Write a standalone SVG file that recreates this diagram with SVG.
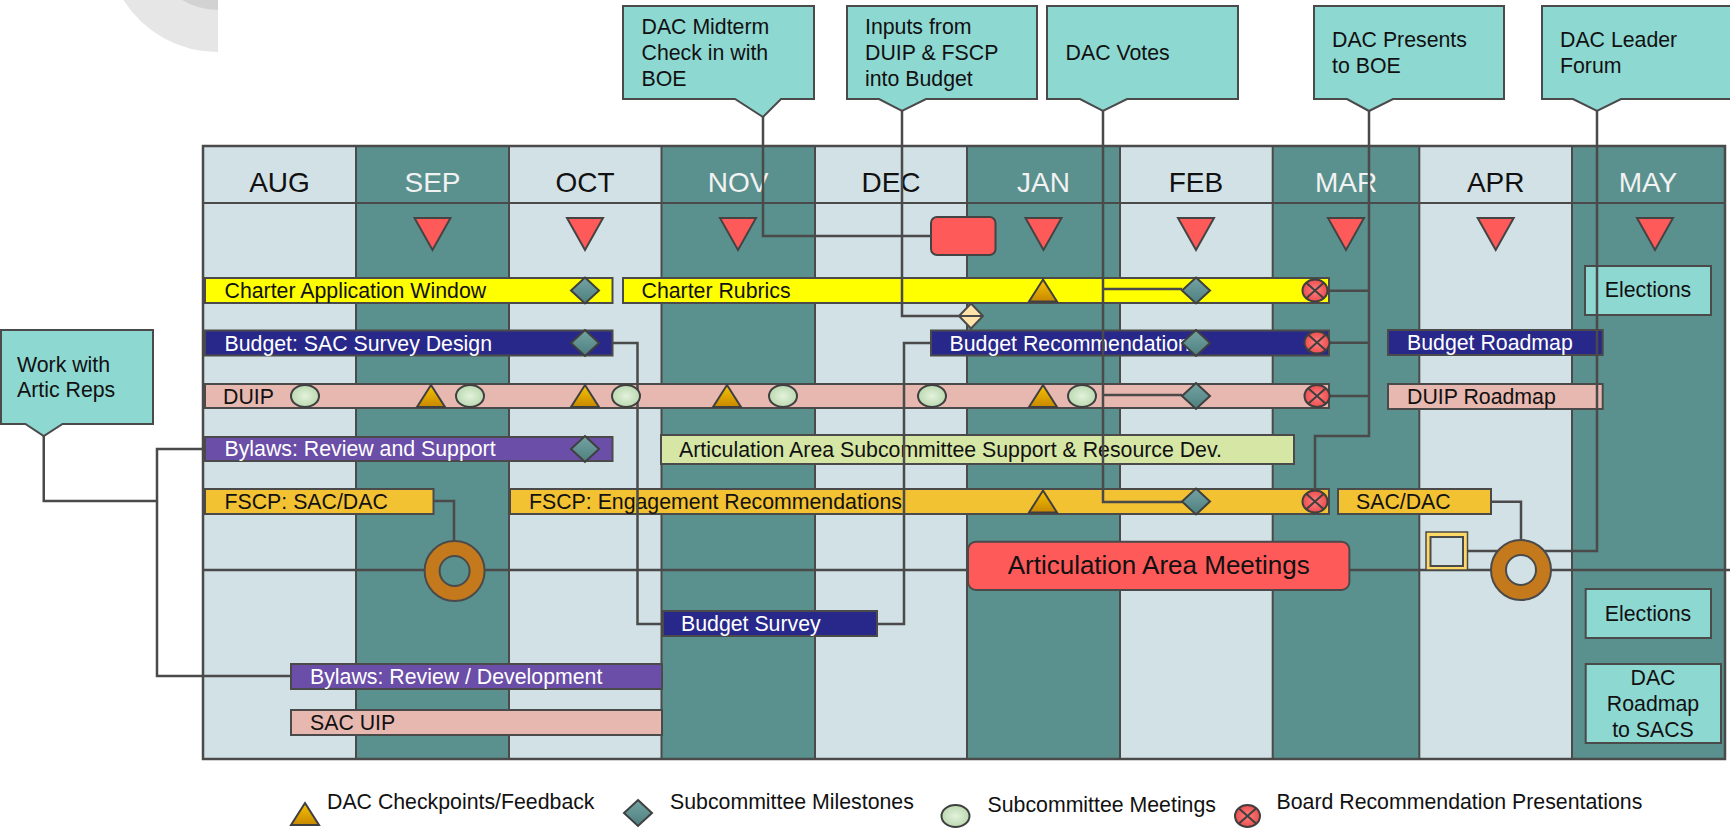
<svg xmlns="http://www.w3.org/2000/svg" width="1730" height="828" viewBox="0 0 1730 828">
<style>
text{font-family:"Liberation Sans",Arial,sans-serif;font-size:21.3px;fill:#111}
.wt{fill:#fff}
.mon{font-size:28px;text-anchor:middle}
.ml{fill:#111}
.md{fill:#f2f2f2}
.cl{fill:#D1E1E5}
.cd{fill:#5A918E}
.gl{stroke:#4a4a4a;stroke-width:2;fill:none}
.bar{stroke:#4a4a4a;stroke-width:2}
.yel{fill:#FFFF00}.navy{fill:#28288A}.pink{fill:#E7B8B0}.purp{fill:#6A4EA8}.org{fill:#F2C232}.grn{fill:#D5E6A5}
.call{fill:#8ED8D2;stroke:#4a4a4a;stroke-width:2}
.con{stroke:#4a4a4a;stroke-width:2.5;fill:none}
.mk{stroke:#3f3f3f;stroke-width:2}
.mid{text-anchor:middle}
</style>
<defs>
<linearGradient id="gTri" x1="0" y1="0" x2="0" y2="1"><stop offset="0" stop-color="#F7C400"/><stop offset="1" stop-color="#C88800"/></linearGradient>
<linearGradient id="gDia" x1="0" y1="0" x2="0" y2="1"><stop offset="0" stop-color="#74A3A3"/><stop offset="1" stop-color="#4E7F7F"/></linearGradient>
<radialGradient id="gEll" cx="0.5" cy="0.5" r="0.6"><stop offset="0" stop-color="#E3F2DC"/><stop offset="1" stop-color="#B3D4A8"/></radialGradient>
<radialGradient id="gX" cx="0.5" cy="0.5" r="0.6"><stop offset="0" stop-color="#FF8080"/><stop offset="1" stop-color="#E84444"/></radialGradient>
<g id="tri"><path class="mk" d="M0,-11 L14,11 L-14,11 Z" fill="url(#gTri)"/></g>
<g id="dia"><path class="mk" d="M0,-13 L14,0 L0,13 L-14,0 Z" fill="url(#gDia)"/></g>
<g id="ell"><ellipse class="mk" rx="14" ry="11" fill="url(#gEll)"/></g>
<g id="xc"><ellipse class="mk" rx="12.5" ry="11" fill="url(#gX)"/><path d="M-8.5,-7.5 L8.5,7.5 M8.5,-7.5 L-8.5,7.5" stroke="#3f3f3f" stroke-width="2"/></g>
<g id="rtri"><path d="M-18,-16 L18,-16 L0,16 Z" fill="#FF5A5A" stroke="#444" stroke-width="2"/></g>
</defs>
<rect width="1730" height="828" fill="#fff"/>
<g id="decor">
<path d="M218,0 L123.4,0 A112,112 0 0 0 218,52 Z" fill="#E6E6E6"/>
<path d="M218,0 L182,0 A70,70 0 0 0 218,10 Z" fill="#D2D2D2"/>
</g>
<g id="grid">
<rect class="cl" x="203" y="146" width="153" height="613"/>
<rect class="cd" x="356" y="146" width="153" height="613"/>
<rect class="cl" x="509" y="146" width="152.5" height="613"/>
<rect class="cd" x="661.5" y="146" width="153.5" height="613"/>
<rect class="cl" x="815" y="146" width="152" height="613"/>
<rect class="cd" x="967" y="146" width="153" height="613"/>
<rect class="cl" x="1120" y="146" width="152.7" height="613"/>
<rect class="cd" x="1272.7" y="146" width="146.6" height="613"/>
<rect class="cl" x="1419.3" y="146" width="152.7" height="613"/>
<rect class="cd" x="1572" y="146" width="153" height="613"/>
<path class="gl" d="M356,146V759M509,146V759M661.5,146V759M815,146V759M967,146V759M1120,146V759M1272.7,146V759M1419.3,146V759M1572,146V759M203,203H1725"/>
<rect x="203" y="146" width="1522" height="613" fill="none" stroke="#4a4a4a" stroke-width="2.5"/>
<text class="mon ml" x="279.5" y="192">AUG</text>
<text class="mon md" x="432.5" y="192">SEP</text>
<text class="mon ml" x="585" y="192">OCT</text>
<text class="mon md" x="738" y="192">NOV</text>
<text class="mon ml" x="891" y="192">DEC</text>
<text class="mon md" x="1043.5" y="192">JAN</text>
<text class="mon ml" x="1196" y="192">FEB</text>
<text class="mon md" x="1346" y="192">MAR</text>
<text class="mon ml" x="1495.7" y="192">APR</text>
<text class="mon md" x="1648" y="192">MAY</text>
<use href="#rtri" x="432.5" y="234"/>
<use href="#rtri" x="585" y="234"/>
<use href="#rtri" x="738" y="234"/>
<use href="#rtri" x="1043.5" y="234"/>
<use href="#rtri" x="1196" y="234"/>
<use href="#rtri" x="1346" y="234"/>
<use href="#rtri" x="1495.7" y="234"/>
<use href="#rtri" x="1655" y="234"/>
</g>
<g id="dec-board-box"><rect x="931" y="217" width="64.5" height="38" rx="6" fill="#FF5A5A" stroke="#444" stroke-width="2"/></g>
<g id="bars">
<g id="charter-app"><rect class="bar yel" x="205" y="278" width="407.5" height="25"/><text x="224.5" y="298">Charter Application Window</text></g>
<g id="charter-rubrics"><rect class="bar yel" x="623" y="278" width="706" height="25"/><text x="641.5" y="298">Charter Rubrics</text></g>
<g id="budget-sac"><rect class="bar navy" x="205" y="330.5" width="407.5" height="25"/><text class="wt" x="224.5" y="350.5">Budget: SAC Survey Design</text></g>
<g id="budget-rec"><rect class="bar navy" x="931" y="330.5" width="398" height="25"/><text class="wt" x="949.5" y="350.5">Budget Recommendation</text></g>
<g id="budget-roadmap"><rect class="bar navy" x="1388" y="330" width="214.7" height="25"/><text class="wt" x="1407" y="350">Budget Roadmap</text></g>
<g id="duip"><rect class="bar pink" x="205" y="384" width="1124" height="24"/><text x="223" y="404">DUIP</text></g>
<g id="duip-roadmap"><rect class="bar pink" x="1388" y="384" width="214.7" height="25"/><text x="1407" y="404">DUIP Roadmap</text></g>
<g id="bylaws-rs"><rect class="bar purp" x="205" y="437" width="407.5" height="24"/><text class="wt" x="224.5" y="456">Bylaws: Review and Support</text></g>
<g id="artic-support"><rect class="bar grn" x="661" y="435" width="633" height="29"/><text x="679" y="456.5">Articulation Area Subcommittee Support &amp; Resource Dev.</text></g>
<g id="fscp-sacdac"><rect class="bar org" x="205" y="489" width="228.5" height="25"/><text x="224.5" y="509">FSCP: SAC/DAC</text></g>
<g id="fscp-eng"><rect class="bar org" x="510" y="489" width="819" height="25"/><text x="529" y="509">FSCP: Engagement Recommendations</text></g>
<g id="sacdac-apr"><rect class="bar org" x="1338" y="489" width="153" height="25"/><text x="1356" y="509">SAC/DAC</text></g>
<g id="budget-survey"><rect class="bar navy" x="663" y="611" width="214" height="25"/><text class="wt" x="681" y="631">Budget Survey</text></g>
<g id="bylaws-rd"><rect class="bar purp" x="291" y="664" width="371" height="25"/><text class="wt" x="310" y="684">Bylaws: Review / Development</text></g>
<g id="sac-uip"><rect class="bar pink" x="291" y="710" width="371" height="25"/><text x="310" y="730">SAC UIP</text></g>
<g id="elections-top"><rect class="call" x="1585" y="266" width="126" height="49"/><text class="mid" x="1648" y="297">Elections</text></g>
<g id="elections-bot"><rect class="call" x="1585.7" y="589" width="125.3" height="49"/><text class="mid" x="1648" y="621">Elections</text></g>
<g id="dac-roadmap"><rect class="call" x="1585.7" y="664" width="135.3" height="79"/><text class="mid" x="1653" y="685">DAC</text><text class="mid" x="1653" y="711">Roadmap</text><text class="mid" x="1653" y="737">to SACS</text></g>
</g>
<g id="connectors">
<path class="con" d="M203,570 H1730"/>
<path class="con" d="M763,117 V236 H931"/>
<path class="con" d="M902,111 V316 H959"/>
<path class="con" d="M1103,111 V502 H1182 M1103,289 H1182 M1103,395 H1182"/>
<path class="con" d="M1369,111 V436 H1315 V490 M1327,290.7 H1369 M1329,342.7 H1369 M1329,396 H1369"/>
<path class="con" d="M1597,111 V551 H1467"/>
<path class="con" d="M43.75,436 V501 H157 M205,449 H157 V676 H291"/>
<path class="con" d="M612.5,343 H637.5 V624 H663 M877,624 H904 V343 H931"/>
<path class="con" d="M433.5,501 H454 V541"/>
<path class="con" d="M1490.7,501.7 H1521 V539"/>
</g>
<g id="markers">
<use href="#dia" x="585" y="290.5"/>
<use href="#tri" x="1043" y="290.5"/>
<use href="#dia" x="1196" y="290.5"/>
<use href="#xc" x="1315" y="290.5"/>
<use href="#dia" x="585" y="343"/>
<use href="#dia" x="1196" y="343"/>
<use href="#xc" x="1317" y="342.5"/>
<use href="#ell" x="305" y="396"/>
<use href="#ell" x="470" y="396"/>
<use href="#ell" x="626" y="396"/>
<use href="#ell" x="783" y="396"/>
<use href="#ell" x="932" y="396"/>
<use href="#ell" x="1082" y="396"/>
<use href="#tri" x="431" y="396"/>
<use href="#tri" x="585" y="396"/>
<use href="#tri" x="727" y="396"/>
<use href="#tri" x="1043" y="396"/>
<use href="#dia" x="1196" y="396"/>
<use href="#xc" x="1317" y="396"/>
<use href="#dia" x="585" y="449"/>
<use href="#tri" x="1043" y="501.5"/>
<use href="#dia" x="1196" y="501.5"/>
<use href="#xc" x="1315" y="501.5"/>
<g id="input-diamond"><path d="M971,303.5 L983,316 L971,328.5 L959,316 Z" fill="#FFE3A8" stroke="#4a4a4a" stroke-width="2"/><path d="M959,316 H983" stroke="#4a4a4a" stroke-width="2"/></g>
</g>
<g id="ring-sep"><circle cx="454.6" cy="571" r="30" fill="#C47A1C" stroke="#4a4a4a" stroke-width="2"/><circle cx="454.6" cy="571" r="15" fill="#5A918E" stroke="#4a4a4a" stroke-width="2"/></g>
<g id="ring-apr"><circle cx="1521" cy="570" r="30" fill="#C47A1C" stroke="#4a4a4a" stroke-width="2"/><circle cx="1521" cy="570" r="15" fill="#D1E1E5" stroke="#4a4a4a" stroke-width="2"/></g>
<g id="square-apr"><rect x="1426" y="532" width="41.5" height="38" fill="#FFD966" stroke="#4a4a4a" stroke-width="1.5"/><rect x="1430.5" y="537" width="32.5" height="29" fill="#D1E1E5" stroke="#4a4a4a" stroke-width="2"/></g>
<g id="artic-meetings"><rect x="968" y="541.7" width="381.4" height="48.3" rx="8" fill="#FF5A5A" stroke="#4a4a4a" stroke-width="2"/><text class="mid" x="1158.7" y="574" style="font-size:26px">Articulation Area Meetings</text></g>
<g id="callouts">
<g id="c-midterm"><path class="call" d="M623,6 H814 V99 H781 L763,117 L735,99 H623 Z"/><text x="641.5" y="34">DAC Midterm</text><text x="641.5" y="60">Check in with</text><text x="641.5" y="86">BOE</text></g>
<g id="c-inputs"><path class="call" d="M847,6 H1037 V99 H926 L902,111 L879,99 H847 Z"/><text x="865" y="34">Inputs from</text><text x="865" y="60">DUIP &amp; FSCP</text><text x="865" y="86">into Budget</text></g>
<g id="c-votes"><path class="call" d="M1047,6 H1238 V99 H1127 L1103,111 L1080,99 H1047 Z"/><text x="1065.6" y="60">DAC Votes</text></g>
<g id="c-presents"><path class="call" d="M1314,6 H1504 V99 H1393 L1369,111 L1347,99 H1314 Z"/><text x="1332" y="46.7">DAC Presents</text><text x="1332" y="72.7">to BOE</text></g>
<g id="c-leader"><path class="call" d="M1542,6 H1734 V99 H1621 L1597,111 L1573,99 H1542 Z"/><text x="1560" y="46.7">DAC Leader</text><text x="1560" y="72.7">Forum</text></g>
<g id="c-work"><path class="call" d="M1,330 H153 V424 H62.5 L43.75,436 L25.4,424 H1 Z"/><text x="17" y="371.7">Work with</text><text x="17" y="397">Artic Reps</text></g>
</g>
<g id="legend">
<use href="#tri" x="305" y="814"/><text x="327" y="809">DAC Checkpoints/Feedback</text>
<use href="#dia" x="638" y="813"/><text x="670" y="809">Subcommittee Milestones</text>
<use href="#ell" x="955.5" y="816"/><text x="987.5" y="811.5">Subcommittee Meetings</text>
<use href="#xc" x="1247.5" y="816"/><text x="1276.5" y="809">Board Recommendation Presentations</text>
</g>
</svg>
